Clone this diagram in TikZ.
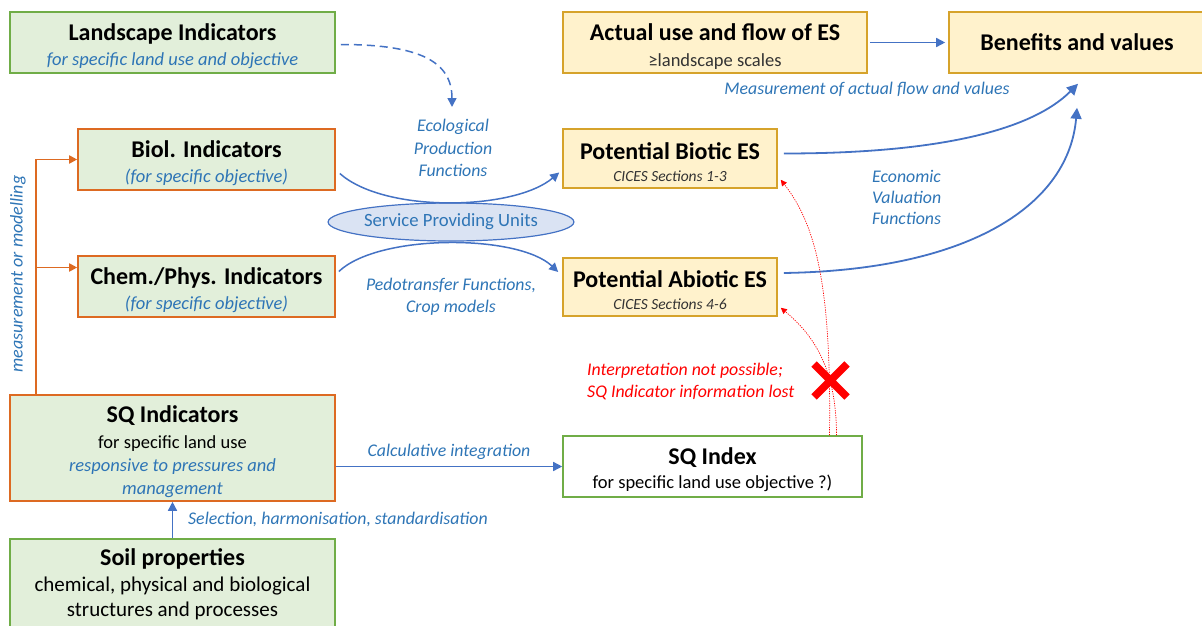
\documentclass[tikz,border=0pt]{standalone}
\usepackage{fontspec}
\setmainfont{Carlito}
\usetikzlibrary{arrows.meta,shapes.geometric,calc}
\definecolor{gfill}{HTML}{E2EFDA}
\definecolor{gline}{HTML}{70AD47}
\definecolor{yfill}{HTML}{FFF2CC}
\definecolor{yline}{HTML}{D6A32B}
\definecolor{oline}{HTML}{DD6A22}
\definecolor{bline}{HTML}{4472C4}
\definecolor{btext}{HTML}{2E75B6}
\definecolor{efill}{HTML}{DAE3F3}
\definecolor{gtext}{HTML}{333333}
\begin{document}
\begin{tikzpicture}[x=1pt,y=-1pt,
  box/.style={draw, line width=1.6pt, inner sep=0pt, align=center},
  greenbox/.style={box, fill=gfill, draw=gline},
  orangebox/.style={box, fill=gfill, draw=oline},
  yellowbox/.style={box, fill=yfill, draw=yline},
  whitebox/.style={box, fill=white, draw=gline},
  lbl/.style={text=btext, font=\fontsize{17.8}{22.5}\selectfont\itshape, align=center, inner sep=0pt},
  barrow/.style={draw=bline, line width=1.5pt, -{Triangle[width=9pt,length=9pt]}},
  oarrow/.style={draw=oline, line width=1.8pt, -{Triangle[width=8pt,length=8pt]}},
  rdot/.style={draw=red, line width=0.7pt, dash pattern=on 1.2pt off 1.2pt, -{Triangle[width=6pt,length=6pt]}}
]
\newcommand{\ttl}[1]{{\fontsize{24}{26}\selectfont\bfseries\rule{0pt}{24pt}#1}}
\newcommand{\ttlb}[1]{{\fontsize{24}{26}\selectfont\bfseries #1}}
\useasboundingbox (0,0) rectangle (1202,626);

% boxes
\node[greenbox, minimum width=325pt, minimum height=61pt, font=\fontsize{18.5}{25}\selectfont] (land) at (172.5,42.5)
  {\ttl{Landscape Indicators}\\{\color{btext}\itshape for specific land use and objective}};
\node[orangebox, minimum width=257pt, minimum height=61pt, font=\fontsize{18.5}{25}\selectfont] (biol) at (206.5,159.5)
  {\ttl{Biol. Indicators}\\{\color{btext}\itshape (for specific objective)}};
\node[orangebox, minimum width=257pt, minimum height=61pt, font=\fontsize{18.5}{25}\selectfont] (chem) at (206.5,286.5)
  {\ttl{Chem./Phys. Indicators}\\{\color{btext}\itshape (for specific objective)}};
\node[orangebox, minimum width=325pt, minimum height=106pt, font=\fontsize{18.5}{23}\selectfont] (sqi) at (172.5,448)
  {\ttl{SQ Indicators}\\[3pt]for specific land use\\{\color{btext}\itshape responsive to pressures and}\\{\color{btext}\itshape management}};
\node[greenbox, minimum width=325pt, minimum height=90pt, font=\fontsize{21}{25}\selectfont] (soil) at (172.5,584)
  {\ttlb{Soil properties}\\[1pt]chemical, physical and biological\\structures and processes};
\node[yellowbox, minimum width=304pt, minimum height=61pt, font=\fontsize{18.5}{26}\selectfont] (actual) at (715,42.5)
  {\ttl{Actual use and flow of ES}\\{\color{gtext}≥landscape scales}};
\node[yellowbox, minimum width=256pt, minimum height=61pt] (ben) at (1077,42.5)
  {\ttlb{Benefits and values}};
\node[yellowbox, minimum width=214pt, minimum height=59pt, font=\fontsize{15.5}{22}\selectfont] (biotic) at (670,158.5)
  {\ttl{Potential Biotic ES}\\{\color{gtext}\itshape CICES Sections 1-3}};
\node[yellowbox, minimum width=214pt, minimum height=58pt, font=\fontsize{15.5}{22}\selectfont] (abiotic) at (670,287)
  {\ttl{Potential Abiotic ES}\\{\color{gtext}\itshape CICES Sections 4-6}};
\node[whitebox, minimum width=299pt, minimum height=61pt, font=\fontsize{18.5}{24}\selectfont] (sqindex) at (712.5,466.5)
  {\ttl{SQ Index}\\for specific land use objective ?)};
\node[ellipse, draw=bline, fill=efill, line width=1.2pt, minimum width=240pt, minimum height=38pt, inner sep=0pt,
  text=btext, font=\fontsize{18.7}{20}\selectfont] (spu) at (451,222) {Service Providing Units};

% labels
\node[lbl] (eco) at (453,148) {Ecological\\Production\\Functions};
\node[lbl, font=\fontsize{17.8}{22}\selectfont\itshape] (pedo) at (451,297) {Pedotransfer Functions,\\Crop models};
\node[lbl] (meas) at (867,89) {Measurement of actual flow and values};
\node[lbl, align=left, anchor=west, font=\fontsize{17.8}{21}\selectfont\itshape] (econ) at (872,197) {Economic\\Valuation\\Functions};
\node[lbl, text=red, align=left, anchor=west, font=\fontsize{17.8}{22}\selectfont\itshape] (interp) at (587,381) {Interpretation not possible;\\SQ Indicator information lost};
\node[lbl] (calc) at (449,452) {Calculative integration};
\node[lbl, anchor=west] (sel) at (188,519) {Selection, harmonisation, standardisation};
\node[lbl, rotate=90, font=\fontsize{18}{20}\selectfont\itshape] (mm) at (18,274) {measurement or modelling};

% connectors
\coordinate (ecotop) at (452,107);
\draw[barrow, dash pattern=on 8pt off 5pt] ($(land.east)+(5,2)$) .. controls +(80,0) and +(0,-45) .. (ecotop);
\draw[barrow] ($(biol.east)+(4,14)$) .. controls +(45,40) and +(-45,38) .. ($(biotic.west)+(-3,14)$);
\draw[barrow] ($(chem.east)+(3,-15)$) .. controls +(40,-38) and +(-40,-38) .. ($(abiotic.west)+(-4,-15)$);
\draw[barrow] ($(actual.east)+(2,0)$) -- ($(ben.west)+(-3,0)$);
\draw[barrow, line width=1.8pt, -{Triangle[width=11pt,length=11pt]}] ($(biotic.east)+(6,-5)$) .. controls +(160,0) and +(-45,45) .. ($(ben.south)+(1,10)$);
\draw[barrow, line width=1.8pt, -{Triangle[width=11pt,length=11pt]}] ($(abiotic.east)+(6,-14)$) .. controls +(190,-3) and +(-8,95) .. ($(ben.south)+(0,34)$);
\draw[barrow] (sqi.east |- sqindex.west) -- (sqindex.west);
\draw[barrow] (soil.north) -- (sqi.south);

\coordinate (mmbase) at ($(sqi.north west)+(27,0)$);
\draw[oarrow] (mmbase) |- (biol.west);
\draw[oarrow] (mmbase) |- ($(chem.west)+(0,-19)$);

\draw[rdot] ($(sqindex.north)+(117,0)$) .. controls +(2,-150) and +(35,45) .. ($(biotic.south east)+(3,-9)$);
\draw[rdot] ($(sqindex.north)+(124,0)$) .. controls +(0,-70) and +(30,25) .. ($(abiotic.south east)+(3,-9)$);

% red cross
\draw[red, line width=7.5pt] (814,364) -- (847,397) (847,364) -- (814,397);
\end{tikzpicture}
\end{document}
